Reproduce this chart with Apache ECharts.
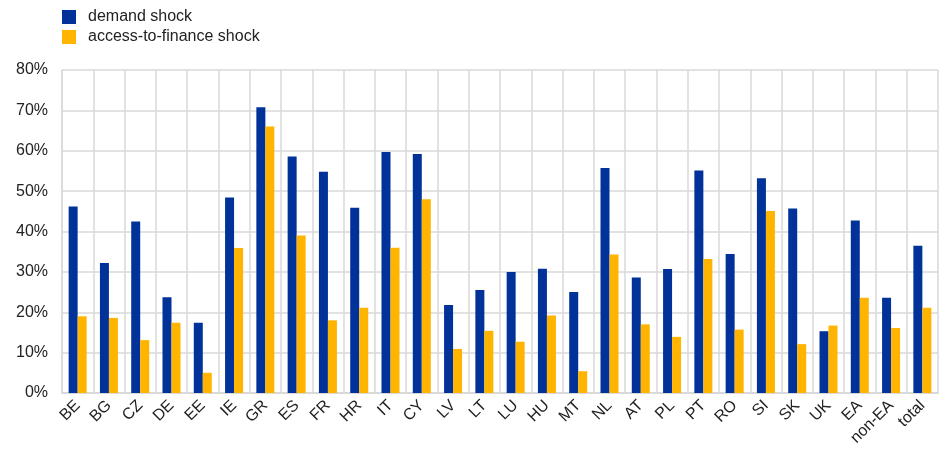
<!DOCTYPE html>
<html>
<head>
<meta charset="utf-8">
<script src="https://cdn.jsdelivr.net/npm/echarts@6/dist/echarts.min.js"></script>
<style>
  html, body { margin: 0; padding: 0; background: #fff; }
  #main { width: 941px; height: 450px; }
</style>
</head>
<body>
<div id="main"></div>
<script>
// categories and values (percent)
var countries = ['BE','BG','CZ','DE','EE','IE','GR','ES','FR','HR','IT','CY','LV','LT','LU','HU','MT','NL','AT','PL','PT','RO','SI','SK','UK','EA','non-EA','total'];
var demandShock = [46.2,32.2,42.5,23.7,17.4,48.4,70.8,58.6,54.8,45.9,59.7,59.2,21.8,25.5,30.0,30.8,25.0,55.7,28.6,30.7,55.1,34.4,53.2,45.7,15.3,42.7,23.6,36.5];
var financeShock = [19.0,18.6,13.1,17.4,5.0,35.9,66.0,39.0,18.0,21.1,36.0,48.0,10.9,15.4,12.7,19.2,5.4,34.3,17.0,13.9,33.2,15.7,45.1,12.1,16.7,23.6,16.1,21.1];
var seriesNames = ['demand shock', 'access-to-finance shock'];

var myChart = echarts.init(document.getElementById('main'));
var gridColor = '#d9d9d9';
var option = {
  animation: false,
  color: ['#003299', '#ffb400'],
  textStyle: { fontFamily: 'Liberation Sans, Arial, sans-serif' },
  legend: {
    orient: 'vertical',
    left: 62,
    top: 9,
    padding: 0,
    itemWidth: 14,
    itemHeight: 14,
    itemGap: 4,
    icon: 'rect',
    textStyle: { fontSize: 16, color: '#222', padding: [0, 0, 0, 7] },
    data: seriesNames
  },
  grid: { left: 62, right: 3, top: 70, bottom: 57, containLabel: false },
  xAxis: {
    type: 'category',
    data: countries,
    axisLine: { show: true, lineStyle: { color: gridColor, width: 2 } },
    axisTick: { show: false },
    splitLine: { show: true, lineStyle: { color: gridColor, width: 1.5 } },
    axisLabel: { rotate: 45, fontSize: 16, color: '#222', interval: 0, margin: 10 }
  },
  yAxis: {
    type: 'value',
    min: 0,
    max: 80,
    interval: 10,
    axisLine: { show: true, lineStyle: { color: gridColor, width: 1.5 } },
    axisTick: { show: false },
    splitLine: { show: true, lineStyle: { color: gridColor, width: 1.5 } },
    axisLabel: { formatter: '{value}%', fontSize: 16, color: '#222', margin: 14 }
  },
  series: [
    {
      name: seriesNames[0],
      type: 'bar',
      data: demandShock,
      barWidth: 9,
      barGap: '0%'
    },
    {
      name: seriesNames[1],
      type: 'bar',
      data: financeShock,
      barWidth: 9,
      barGap: '0%'
    }
  ]
};
myChart.setOption(option);
</script>
</body>
</html>
